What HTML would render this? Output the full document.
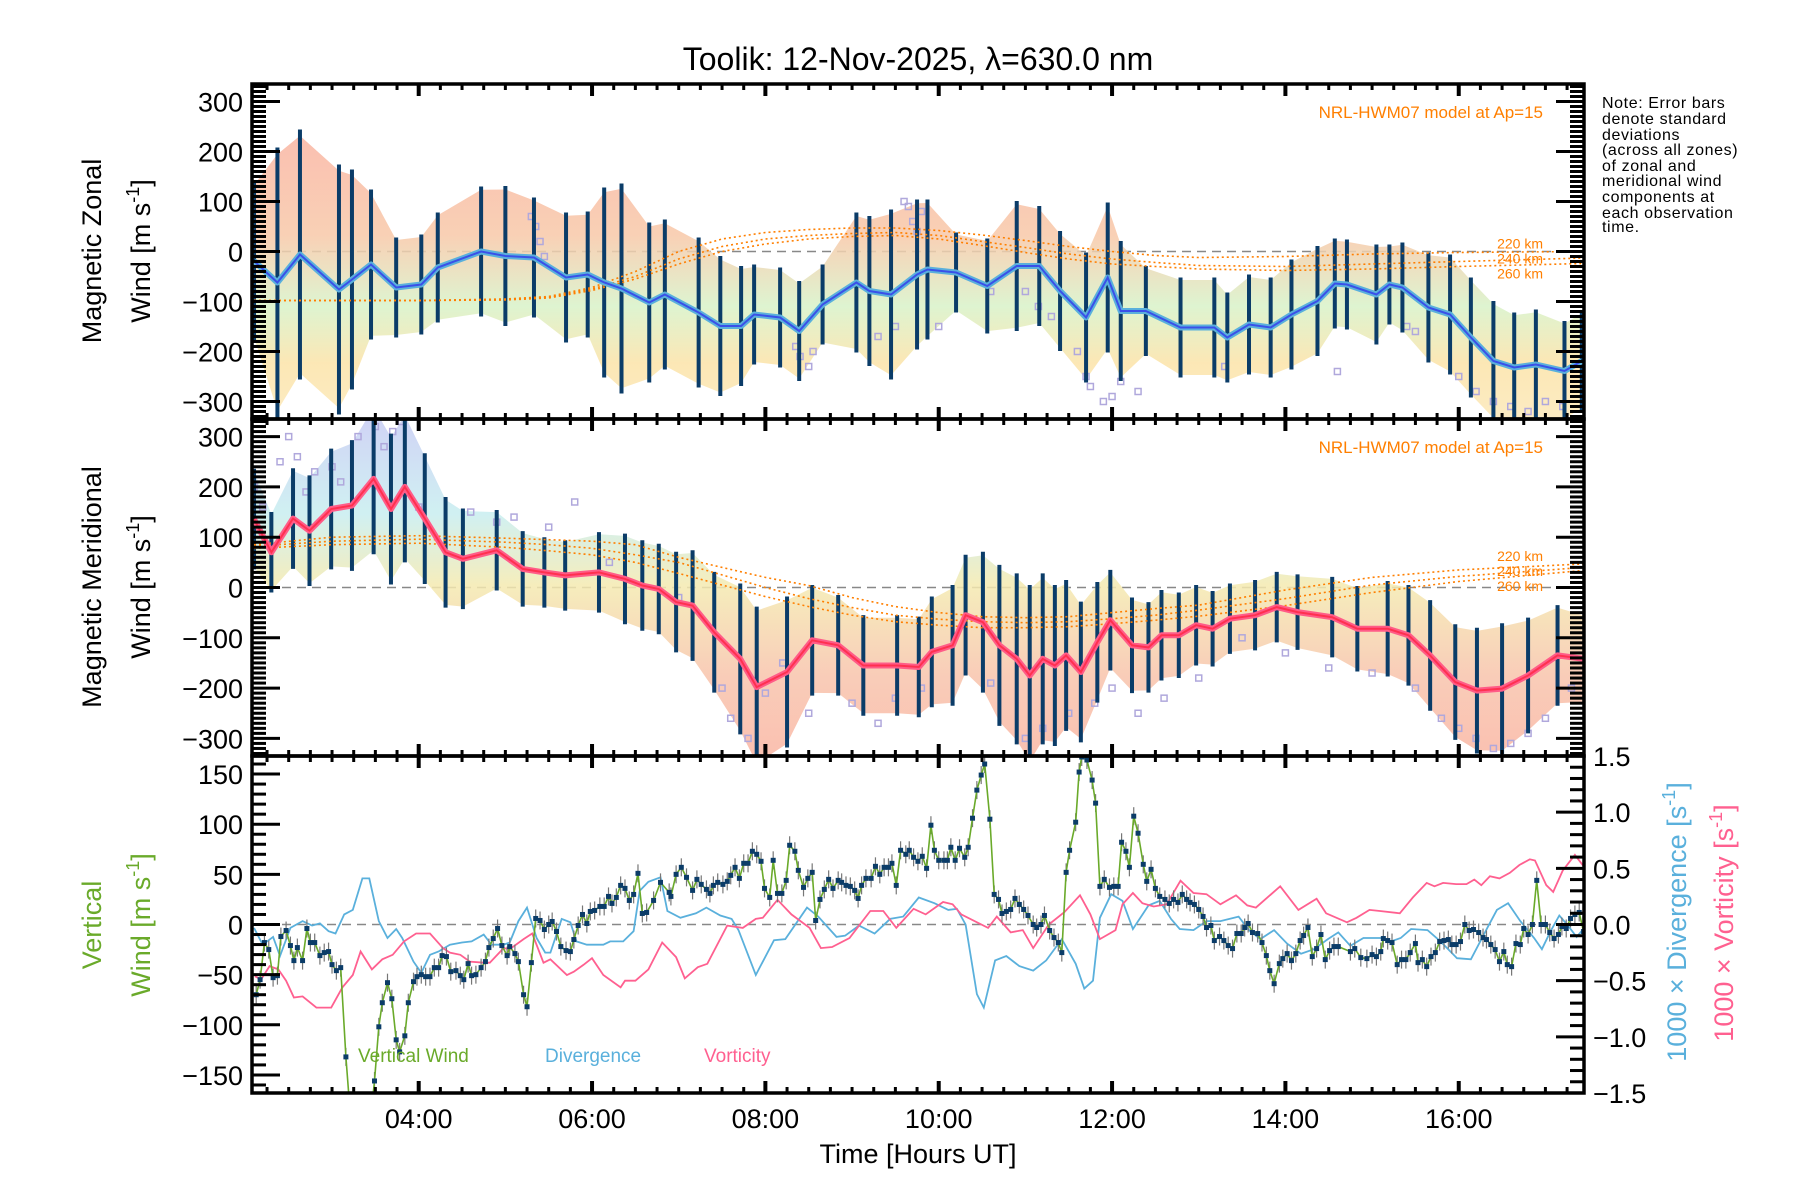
<!DOCTYPE html>
<html><head><meta charset="utf-8"><title>Toolik winds</title>
<style>
html,body{margin:0;padding:0;background:#fff;}
svg{display:block;font-family:"Liberation Sans",sans-serif;}
</style></head>
<body>
<svg id="chart" xmlns="http://www.w3.org/2000/svg" width="1800" height="1200" viewBox="0 0 1800 1200">
<defs>
<linearGradient id="g1" x1="0" y1="0" x2="0" y2="1">
<stop offset="0" stop-color="#f9b4a2"/><stop offset="0.35" stop-color="#f8c8a8"/><stop offset="0.6" stop-color="#d8f2c8"/><stop offset="0.8" stop-color="#fbe3a8"/><stop offset="1" stop-color="#fce8b8"/></linearGradient>
<linearGradient id="g2" x1="0" y1="0" x2="0" y2="1">
<stop offset="0" stop-color="#c8c8f4"/><stop offset="0.3" stop-color="#c8eef0"/><stop offset="0.5" stop-color="#f4eab0"/><stop offset="0.75" stop-color="#f8c4ac"/><stop offset="1" stop-color="#f9b4a2"/></linearGradient>
<clipPath id="c1"><rect x="252" y="84" width="1332" height="335"/></clipPath>
<clipPath id="c2"><rect x="252" y="419" width="1332" height="337"/></clipPath>
<clipPath id="c3"><rect x="252" y="756" width="1332" height="337"/></clipPath>
</defs>
<text x="918" y="70" font-size="32" text-anchor="middle">Toolik: 12-Nov-2025, λ=630.0 nm</text>
<g font-size="16" letter-spacing="0.6" fill="#000">
<text x="1602" y="108">Note: Error bars</text>
<text x="1602" y="124">denote standard</text>
<text x="1602" y="140">deviations</text>
<text x="1602" y="155">(across all zones)</text>
<text x="1602" y="171">of zonal and</text>
<text x="1602" y="186">meridional wind</text>
<text x="1602" y="202">components at</text>
<text x="1602" y="218">each observation</text>
<text x="1602" y="232">time.</text>
</g>
<g font-size="27" text-anchor="middle">
<text transform="translate(101,251) rotate(-90)">Magnetic Zonal</text>
<text transform="translate(150,251) rotate(-90)">Wind [m s<tspan dy="-11" font-size="18">-1</tspan><tspan dy="11">]</tspan></text>
<text transform="translate(101,587) rotate(-90)">Magnetic Meridional</text>
<text transform="translate(150,587) rotate(-90)">Wind [m s<tspan dy="-11" font-size="18">-1</tspan><tspan dy="11">]</tspan></text>
<text transform="translate(101,925) rotate(-90)" fill="#6aaa2a">Vertical</text>
<text transform="translate(150,925) rotate(-90)" fill="#6aaa2a">Wind [m s<tspan dy="-11" font-size="18">-1</tspan><tspan dy="11">]</tspan></text>
<text transform="translate(1686,922) rotate(-90)" fill="#5ab0dc">1000 × Divergence [s<tspan dy="-11" font-size="18">-1</tspan><tspan dy="11">]</tspan></text>
<text transform="translate(1733,923) rotate(-90)" fill="#ff6090">1000 × Vorticity [s<tspan dy="-11" font-size="18">-1</tspan><tspan dy="11">]</tspan></text>
</g>
<text x="918" y="1163" font-size="27" text-anchor="middle">Time [Hours UT]</text>
<g id="layer"></g>
</svg>
<script>
// ---- Data ----
const zonalTimes=[2.10,2.37,2.63,3.08,3.23,3.45,3.74,4.03,4.22,4.72,5.00,5.33,5.70,5.95,6.14,6.34,6.66,6.84,7.23,7.48,7.72,7.87,8.17,8.39,8.66,9.05,9.20,9.45,9.75,9.87,10.20,10.56,10.90,11.16,11.40,11.70,11.95,12.10,12.39,12.79,13.18,13.33,13.58,13.83,14.07,14.37,14.57,14.71,15.05,15.20,15.35,15.65,15.90,16.14,16.40,16.64,16.89,17.22,17.42];
const zonalWind=[-19,-62,-6,-76,-56,-26,-72,-66,-32,0,-9,-12,-52,-46,-62,-74,-102,-86,-122,-149,-149,-126,-132,-159,-106,-62,-79,-86,-46,-36,-42,-69,-29,-29,-79,-132,-52,-119,-119,-152,-152,-172,-146,-152,-126,-99,-64,-66,-86,-66,-72,-112,-126,-172,-219,-232,-226,-239,-219];
const zonalErr=[160,270,250,250,220,150,100,100,110,130,140,120,130,126,190,210,160,150,150,140,120,100,100,100,80,140,150,170,150,140,80,95,130,120,120,130,150,140,90,100,100,90,100,100,110,110,90,90,100,80,90,110,120,120,120,110,110,100,100];
const merTimes=[2.10,2.30,2.55,2.74,2.99,3.23,3.48,3.68,3.84,4.07,4.31,4.51,4.90,5.20,5.45,5.69,6.08,6.38,6.58,6.77,6.97,7.16,7.41,7.71,7.90,8.25,8.54,8.84,9.13,9.52,9.77,9.92,10.16,10.31,10.51,10.70,10.90,11.05,11.20,11.34,11.47,11.64,11.83,11.98,12.23,12.42,12.57,12.77,12.97,13.16,13.36,13.65,13.90,14.14,14.54,14.83,15.18,15.42,15.67,15.96,16.21,16.50,16.80,17.14,17.45];
const merWind=[136,70,137,113,156,163,216,156,200,137,70,57,74,37,30,24,30,17,4,-3,-29,-36,-89,-142,-198,-168,-105,-115,-155,-155,-158,-128,-115,-55,-69,-115,-142,-175,-142,-155,-135,-168,-109,-65,-115,-119,-95,-95,-75,-82,-62,-55,-39,-49,-59,-82,-82,-95,-135,-188,-205,-201,-175,-135,-142];
const merErr=[100,80,100,110,120,130,150,150,150,130,110,100,80,75,70,70,80,90,90,90,100,110,120,150,160,150,110,100,100,100,100,110,120,120,140,160,170,180,170,160,150,140,120,100,95,90,90,85,80,75,70,70,70,75,80,85,95,100,110,115,125,130,115,100,90];
const zonalOutT=[5.3,5.35,5.4,5.45,8.35,8.4,8.5,8.55,9.6,9.65,9.7,9.75,9.8,10.0,11.0,11.15,11.3,11.6,11.7,11.75,11.9,12.0,12.1,12.3,13.3,14.6,15.4,15.5,16.0,16.2,16.4,16.6,16.8,17.0,17.2,9.3,9.5,10.6];
const zonalOutV=[70,50,20,-10,-190,-210,-230,-200,100,90,60,40,80,-150,-80,-110,-130,-200,-250,-270,-300,-290,-260,-280,-230,-240,-150,-160,-250,-280,-300,-310,-320,-300,-310,-170,-150,-80];
const merOutT=[2.1,2.2,2.4,2.5,2.6,2.7,2.8,3.0,3.1,3.3,3.5,3.6,3.7,3.8,4.0,4.6,4.9,5.1,5.5,5.8,6.2,7.0,7.5,7.6,7.8,8.0,8.2,8.5,9.0,9.3,9.5,9.8,10.6,11.0,11.2,11.5,11.8,12.0,12.3,12.6,13.0,13.5,14.0,14.5,15.0,15.5,15.8,16.0,16.2,16.4,16.6,16.8,17.0,17.3];
const merOutV=[200,160,250,300,260,190,230,240,210,300,320,280,310,330,160,150,130,140,120,170,50,-20,-200,-260,-300,-210,-150,-250,-230,-270,-220,-200,-190,-300,-280,-250,-230,-200,-250,-220,-180,-100,-130,-160,-170,-200,-260,-280,-300,-320,-310,-290,-260,-200];
const modelT=[2.1,3,4,5,5.5,6,6.5,7,7.5,8,8.5,9,9.5,10,10.5,11,11.5,12,12.5,13,14,15,16,17.45];
const zonal220=[-98,-98,-98,-95,-90,-72,-40,0,25,38,44,47,47,42,33,22,10,0,-8,-12,-10,-5,-2,0];
const zonal240=[-98,-98,-98,-96,-92,-75,-50,-15,10,25,32,36,38,32,20,8,-5,-15,-22,-28,-30,-25,-20,-13];
const zonal260=[-98,-98,-98,-97,-93,-78,-55,-25,0,15,25,30,32,25,12,-2,-15,-25,-30,-35,-38,-35,-30,-24];
const mer220=[85,100,103,98,95,92,85,60,40,20,4,-20,-38,-50,-58,-60,-58,-50,-42,-35,-5,20,35,47];
const mer240=[82,92,96,90,85,78,65,50,25,0,-22,-40,-55,-63,-68,-70,-68,-62,-55,-45,-22,5,22,40];
const mer260=[78,85,88,80,73,65,50,28,5,-18,-38,-55,-68,-75,-80,-80,-78,-72,-65,-57,-36,-10,12,34];
const vertT=[2.125,2.17,2.22,2.27,2.32,2.37,2.41,2.47,2.52,2.56,2.60,2.66,2.71,2.75,2.80,2.86,2.91,2.96,3.00,3.05,3.10,3.16,3.22,3.45,3.49,3.54,3.58,3.64,3.69,3.74,3.78,3.84,3.88,3.94,3.98,4.03,4.08,4.13,4.18,4.23,4.27,4.32,4.37,4.43,4.48,4.52,4.57,4.61,4.66,4.72,4.77,4.81,4.86,4.91,4.96,5.02,5.05,5.11,5.15,5.21,5.25,5.30,5.35,5.40,5.45,5.50,5.54,5.59,5.64,5.70,5.75,5.79,5.84,5.89,5.94,5.98,6.03,6.09,6.14,6.19,6.23,6.28,6.33,6.38,6.43,6.48,6.53,6.58,6.63,6.71,6.79,6.89,6.91,6.97,7.03,7.09,7.16,7.21,7.26,7.32,7.36,7.40,7.45,7.51,7.56,7.60,7.65,7.70,7.75,7.80,7.85,7.90,7.95,7.99,8.05,8.09,8.14,8.19,8.24,8.28,8.34,8.38,8.44,8.49,8.54,8.58,8.63,8.68,8.73,8.78,8.84,8.88,8.93,8.98,9.03,9.07,9.11,9.16,9.22,9.27,9.32,9.37,9.42,9.46,9.51,9.56,9.62,9.66,9.71,9.76,9.81,9.86,9.91,9.95,10.00,10.06,10.10,10.14,10.19,10.24,10.30,10.34,10.39,10.44,10.49,10.53,10.59,10.64,10.69,10.73,10.78,10.83,10.88,10.93,10.98,11.03,11.09,11.13,11.18,11.22,11.28,11.33,11.38,11.42,11.47,11.51,11.58,11.62,11.65,11.71,11.77,11.81,11.86,11.91,11.97,12.02,12.07,12.11,12.16,12.20,12.25,12.30,12.36,12.40,12.45,12.50,12.55,12.61,12.66,12.71,12.76,12.81,12.86,12.90,12.95,13.00,13.05,13.09,13.14,13.18,13.24,13.29,13.34,13.39,13.44,13.49,13.53,13.57,13.62,13.68,13.73,13.78,13.82,13.87,13.93,13.97,14.02,14.07,14.12,14.17,14.21,14.26,14.31,14.36,14.41,14.46,14.51,14.56,14.61,14.75,14.80,14.87,14.94,15.00,15.05,15.10,15.13,15.18,15.23,15.29,15.34,15.39,15.44,15.50,15.53,15.58,15.63,15.68,15.73,15.78,15.83,15.88,15.92,15.97,16.02,16.07,16.12,16.17,16.23,16.28,16.32,16.37,16.42,16.47,16.52,16.56,16.61,16.66,16.71,16.75,16.80,16.85,16.90,16.95,17.00,17.05,17.10,17.15,17.19,17.24,17.29,17.34,17.39,17.44];
const vertWind=[-70,-55,-18,-25,-53,-51,-12,-6,-21,-36,-23,-36,-4,-18,-18,-31,-28,-27,-40,-46,-43,-132,-200,-190,-156,-102,-78,-58,-74,-115,-127,-111,-78,-57,-52,-50,-52,-52,-43,-43,-31,-32,-47,-46,-51,-55,-39,-51,-50,-43,-37,-23,-14,-4,-21,-31,-22,-29,-37,-70,-82,-38,6,4,-5,0,3,-7,-22,-26,-27,-15,-1,10,1,13,14,18,18,28,21,27,39,36,24,30,51,11,12,24,42,32,28,50,57,47,34,45,40,35,31,39,42,40,43,49,57,46,61,61,73,70,63,36,27,64,31,31,44,79,73,54,37,46,52,4,25,35,45,36,44,42,39,38,34,26,39,46,46,58,50,57,57,61,39,74,70,74,67,63,68,56,99,74,64,64,64,77,64,76,67,77,106,134,149,160,105,30,25,11,13,15,26,20,15,9,0,-3,0,9,-6,-13,-18,-28,52,74,102,152,167,164,144,121,38,45,37,38,38,82,73,57,108,91,60,43,55,36,28,25,21,25,22,30,25,22,20,15,8,-3,-1,-16,-12,-16,-21,-24,-9,-9,-3,1,-8,-9,-18,-31,-46,-59,-39,-34,-29,-36,-29,-16,-11,-3,-32,-24,-10,-35,-26,-22,-22,-27,-24,-33,-34,-30,-32,-27,-14,-16,-18,-40,-35,-35,-28,-19,-38,-35,-42,-32,-28,-17,-16,-15,-20,-20,-17,0,-6,-5,-8,-13,-15,-20,-25,-37,-27,-40,-42,-19,-20,-4,-10,0,44,0,0,-8,-14,-10,-2,-4,6,10,12,-7];
const divT=[2.10,2.20,2.32,2.40,2.52,2.66,2.77,2.86,2.96,3.04,3.14,3.24,3.35,3.43,3.54,3.64,3.74,3.81,3.94,4.03,4.13,4.23,4.36,4.50,4.61,4.75,4.84,4.98,5.05,5.15,5.25,5.36,5.46,5.52,5.65,5.75,5.82,5.94,6.13,6.21,6.36,6.48,6.55,6.65,6.79,6.87,7.02,7.20,7.32,7.48,7.61,7.69,7.89,8.10,8.23,8.48,8.61,8.82,8.92,9.08,9.26,9.44,9.59,9.77,9.95,10.11,10.21,10.31,10.44,10.52,10.65,10.78,10.93,11.09,11.24,11.42,11.58,11.68,11.78,11.86,11.99,12.12,12.24,12.42,12.55,12.68,12.78,12.94,13.09,13.25,13.46,13.58,13.71,13.87,14.02,14.18,14.33,14.49,14.61,14.75,14.90,15.10,15.22,15.33,15.45,15.64,15.79,15.98,16.14,16.33,16.44,16.57,16.71,16.87,16.96,17.06,17.16,17.25,17.36,17.44];
const divVal=[-0.03,-0.18,-0.11,-0.28,-0.03,0.03,-0.01,0.01,-0.06,-0.08,0.09,0.13,0.41,0.41,0.03,-0.12,-0.04,-0.12,-0.33,-0.43,-0.27,-0.24,-0.18,-0.16,-0.15,-0.09,-0.18,-0.18,-0.16,0.03,0.15,-0.12,-0.25,-0.25,0.05,0.02,-0.15,-0.18,-0.18,-0.15,-0.15,-0.06,0.30,0.38,0.42,0.12,0.06,0.10,0.15,0.08,0.05,-0.05,-0.45,-0.14,-0.13,0.15,0.07,-0.11,-0.10,-0.01,-0.08,0.05,0.07,0.24,0.19,0.13,0.14,0.00,-0.62,-0.74,-0.32,-0.28,-0.37,-0.41,-0.32,-0.13,-0.35,-0.57,-0.50,0.06,0.27,0.21,-0.04,0.17,0.21,0.05,-0.04,-0.05,0.03,0.03,0.07,-0.05,-0.13,-0.05,-0.17,-0.26,-0.22,-0.13,-0.07,-0.19,-0.12,-0.12,-0.15,-0.12,-0.04,-0.05,-0.15,-0.30,-0.31,-0.03,0.13,0.19,0.03,-0.12,-0.22,-0.06,0.08,0.0,-0.11,-0.04];
const vorT=[2.11,2.18,2.28,2.38,2.47,2.56,2.66,2.82,2.99,3.12,3.24,3.33,3.46,3.58,3.70,3.83,3.97,4.13,4.28,4.36,4.48,4.59,4.75,4.82,4.98,5.05,5.21,5.31,5.44,5.52,5.71,5.79,5.90,6.00,6.13,6.33,6.38,6.50,6.65,6.81,6.97,7.07,7.22,7.33,7.56,7.74,7.89,7.97,8.14,8.30,8.51,8.64,8.77,8.97,9.21,9.36,9.51,9.71,9.85,10.05,10.16,10.26,10.57,10.67,10.83,10.97,11.09,11.27,11.45,11.63,11.75,11.86,12.04,12.12,12.24,12.35,12.48,12.63,12.79,12.94,13.09,13.25,13.43,13.56,13.66,13.94,14.15,14.36,14.47,14.71,14.82,14.97,15.09,15.32,15.47,15.63,15.72,15.82,15.97,16.09,16.18,16.26,16.36,16.47,16.59,16.70,16.82,16.88,17.01,17.09,17.20,17.34,17.44];
const vorVal=[-0.46,-0.49,-0.37,-0.40,-0.50,-0.65,-0.64,-0.74,-0.74,-0.56,-0.45,-0.24,-0.40,-0.31,-0.27,-0.15,-0.08,-0.08,-0.21,-0.25,-0.27,-0.33,-0.34,-0.34,-0.21,-0.22,-0.13,-0.08,-0.34,-0.31,-0.45,-0.42,-0.36,-0.30,-0.45,-0.56,-0.50,-0.50,-0.40,-0.16,-0.29,-0.48,-0.38,-0.35,-0.01,-0.03,0.05,0.06,0.22,0.09,-0.03,-0.21,-0.20,-0.12,0.12,0.12,-0.03,0.14,0.09,0.20,0.18,0.09,-0.03,0.07,-0.07,-0.05,-0.21,0.00,0.11,0.26,0.09,-0.13,-0.05,0.18,0.28,0.19,0.16,0.18,0.39,0.28,0.27,0.18,0.26,0.17,0.15,0.34,0.13,0.23,0.10,0.02,0.06,0.13,0.12,0.10,0.24,0.37,0.34,0.37,0.36,0.36,0.40,0.35,0.43,0.41,0.46,0.53,0.58,0.57,0.35,0.29,0.48,0.62,0.52];
const xTickHours=[4,6,8,10,12,14,16];
const xTickLabels=["04:00","06:00","08:00","10:00","12:00","14:00","16:00"];
const windTicks=[300,200,100,0,-100,-200,-300];
const vertTicks=[150,100,50,0,-50,-100,-150];
const rightTicks=[1.5,1.0,0.5,0.0,-0.5,-1.0,-1.5];
const rightTickLabels=["1.5","1.0","0.5","0.0","\u22120.5","\u22121.0","\u22121.5"];

// ---- Axes ----
const NS="http://www.w3.org/2000/svg";
const L=252,R=1584,H0=2.0766,H1=17.4452;
const xS=h=>L+(h-H0)*(R-L)/(H1-H0);
const P1={top:84,bot:419,max:335,min:-335};
const P2={top:419,bot:756,max:335,min:-335};
const P3={top:756,bot:1093,max:168,min:-168};
const yS=(p,v)=>p.bot-(v-p.min)*(p.bot-p.top)/(p.max-p.min);
const yR=v=>yS({top:756,bot:1093,max:1.5,min:-1.5},v);
const layer=document.getElementById('layer');
function mk(tag,attrs,parent){const e=document.createElementNS(NS,tag);for(const k in attrs)e.setAttribute(k,attrs[k]);(parent||layer).appendChild(e);return e;}
function grp(clip){const g=mk('g',clip?{'clip-path':'url(#'+clip+')'}:{});return g;}
function lineStr(ts,vs,fy){return ts.map((t,i)=>(i?'L':'M')+xS(t).toFixed(1)+','+fy(vs[i]).toFixed(1)).join('');}
function minus(v){return String(v).replace('-','\u2212');}

function windPanel(p,clip,times,vals,errs,outT,outV,grad,lineColor,dark,mods,gname){
  const g=grp(clip);
  
  
  const z=mk('line',{x1:L,x2:R,y1:yS(p,0),y2:yS(p,0),stroke:'#888','stroke-width':1.5,'stroke-dasharray':'9,6'},g);
  
  
  let d='';
  times.forEach((t,i)=>{d+=(i?'L':'M')+xS(t).toFixed(1)+','+yS(p,vals[i]+errs[i]*0.95).toFixed(1);});
  for(let i=times.length-1;i>=0;i--)d+='L'+xS(times[i]).toFixed(1)+','+yS(p,vals[i]-errs[i]*0.95).toFixed(1);
  const band=mk('path',{d:d+'Z',fill:'url(#'+grad+')',opacity:0.85},g);
  
  
  outT.forEach((t,i)=>{
    const s=mk('rect',{x:xS(t)-3,y:yS(p,outV[i])-3,width:6,height:6,fill:'none',stroke:'#b0a8dc','stroke-width':1.5},g);
    
    
  });
  times.forEach((t,i)=>{
    const b=mk('line',{x1:xS(t),x2:xS(t),y1:yS(p,vals[i]+errs[i]),y2:yS(p,vals[i]-errs[i]),stroke:'#0b3c68','stroke-width':4},g);
    
    
  });
  mods.forEach((m,k)=>{
    const ml=mk('path',{d:lineStr(modelT,m,v=>yS(p,v)),fill:'none',stroke:'#ff7f00','stroke-width':1.6,'stroke-dasharray':'2,3'},g);
    
    
  });
  const ml=mk('path',{d:lineStr(times,vals,v=>yS(p,v)),fill:'none',stroke:lineColor,'stroke-width':6,'stroke-linejoin':'round'},g);
  
  
  const ml2=mk('path',{d:lineStr(times,vals,v=>yS(p,v)),fill:'none',stroke:dark,'stroke-width':2},g);
  
  
  const t=mk('text',{x:1543,y:p.top+34,'font-size':17,'text-anchor':'end',fill:'#ff7f00'});
  t.textContent='NRL-HWM07 model at Ap=15';
  
  
  const baseY=yS(p,mods[0][mods[0].length-1])-8;
  mods.forEach((m,k)=>{
    const kt=mk('text',{x:1543,y:baseY+k*15+5,'font-size':14,'text-anchor':'end',fill:'#ff7f00'});
    kt.textContent=(220+20*k)+' km';
    
    
  });
}
windPanel(P1,'c1',zonalTimes,zonalWind,zonalErr,zonalOutT,zonalOutV,'g1','#5ab0dc','#3a50e8',[zonal220,zonal240,zonal260],'zonal');
windPanel(P2,'c2',merTimes,merWind,merErr,merOutT,merOutV,'g2','#ff5c88','#ff3050',[mer220,mer240,mer260],'meridional');
// ---- Panel 3 ----
const g3=grp('c3');


const z3=mk('line',{x1:L,x2:R,y1:yS(P3,0),y2:yS(P3,0),stroke:'#888','stroke-width':1.5,'stroke-dasharray':'9,6'},g3);


const dl=mk('path',{d:lineStr(divT,divVal,yR),fill:'none',stroke:'#5ab0dc','stroke-width':1.8},g3);


const vl=mk('path',{d:lineStr(vorT,vorVal,yR),fill:'none',stroke:'#ff6090','stroke-width':1.8},g3);


vertT.forEach((t,i)=>{
  const b=mk('line',{x1:xS(t),x2:xS(t),y1:yS(P3,vertWind[i])-9,y2:yS(P3,vertWind[i])+9,stroke:'#777','stroke-width':1.2},g3);
  
  
});
const wl=mk('path',{d:lineStr(vertT,vertWind,v=>yS(P3,v)),fill:'none',stroke:'#6aaa2a','stroke-width':1.6},g3);


vertT.forEach((t,i)=>{
  const s=mk('rect',{x:xS(t)-2.5,y:yS(P3,vertWind[i])-2.5,width:5,height:5,fill:'#0b3c68'},g3);
  
  
});
[['Vertical Wind',358,'#6aaa2a','legend-vertical-wind'],['Divergence',545,'#5ab0dc','legend-divergence'],['Vorticity',704,'#ff6090','legend-vorticity']].forEach(a=>{
  const t=mk('text',{x:a[1],y:1062,'font-size':19,fill:a[2]});
  t.textContent=a[0];
  
  
});
// ---- Frames & ticks ----
const fr=mk('g',{stroke:'#000',fill:'none'});


[P1,P2,P3].forEach((p,pi)=>{
  mk('rect',{x:L,y:p.top,width:R-L,height:p.bot-p.top,'stroke-width':3.5},fr);
  for(let h=Math.ceil(H0*4)/4;h<=H1;h+=0.25){
    const major=Math.abs(h/2-Math.round(h/2))<1e-6;
    const len=major?12:6, w=major?4:3;
    mk('line',{x1:xS(h),x2:xS(h),y1:p.bot,y2:p.bot-len,'stroke-width':w},fr);
    mk('line',{x1:xS(h),x2:xS(h),y1:p.top,y2:p.top+len,'stroke-width':w},fr);
  }
  const lo=pi<2?-330:-160, hi=pi<2?330:160;
  for(let v=lo;v<=hi;v+=10){
    const major=(pi<2?v%100===0:v%50===0);
    const len=major?28:14;
    const y=yS(p,v);
    mk('line',{x1:L,x2:L+len,y1:y,y2:y,'stroke-width':3},fr);
    if(pi<2) mk('line',{x1:R,x2:R-len,y1:y,y2:y,'stroke-width':3},fr);
  }
});
for(let k=-15;k<=15;k++){
  const v=k/10, major=k%5===0, y=yR(v);
  mk('line',{x1:R,x2:R-(major?28:14),y1:y,y2:y,'stroke-width':3},fr);
}
function lab(x,y,s,anchor,name){const t=mk('text',{x:x,y:y,'font-size':27,'text-anchor':anchor});t.textContent=s;}
windTicks.forEach(v=>{lab(243,yS(P1,v)+10,minus(v),'end','zonal-y-tick-label');lab(243,yS(P2,v)+10,minus(v),'end','meridional-y-tick-label');});
vertTicks.forEach(v=>lab(243,yS(P3,v)+10,minus(v),'end','vertical-y-tick-label'));
rightTicks.forEach((v,i)=>lab(1593,yR(v)+10,rightTickLabels[i],'start','right-y-tick-label'));
xTickHours.forEach((h,i)=>lab(xS(h),1128,xTickLabels[i],'middle','x-tick-label'));
</script>
</body></html>
